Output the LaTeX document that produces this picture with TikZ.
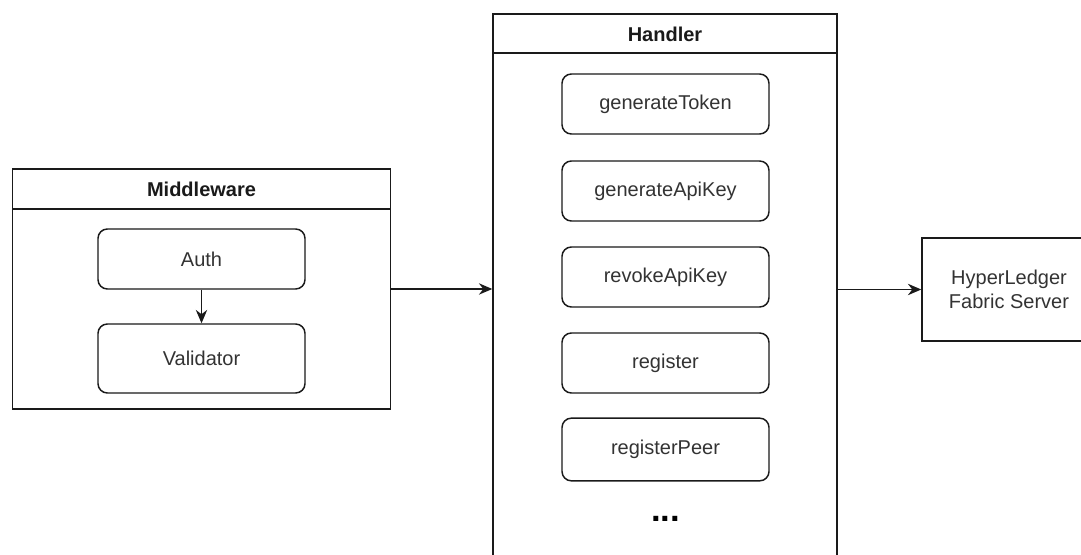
\documentclass[tikz,border=0pt]{standalone}
\usepackage{fontspec}
\setmainfont{Liberation Sans}
\usetikzlibrary{arrows.meta}
\definecolor{linec}{HTML}{1A1A1A}
\definecolor{textc}{HTML}{333333}
\tikzset{
  px/.style={x=0.75pt,y=-0.75pt},
  container/.style={draw=linec,line width=1.1pt,inner sep=0pt,fill=white},
  titletext/.style={font=\fontsize{15}{18}\selectfont\bfseries,text=linec,inner sep=0pt},
  funcbox/.style={draw=linec,line width=1.1pt,rounded corners=7pt,fill=white,
    minimum width=155.25pt,minimum height=45pt,inner sep=0pt,
    font=\fontsize{15}{18}\selectfont,text=textc},
  plainbox/.style={draw=linec,line width=1.1pt,fill=white,inner sep=0pt,
    font=\fontsize{15}{18}\selectfont,text=textc,align=center},
  arrowline/.style={draw=linec,line width=1.2pt,-{Stealth[length=10pt,width=8.5pt]}}
}
\begin{document}
\begin{tikzpicture}[px]
\useasboundingbox (0,0) rectangle (1081,555);
\clip (0,0) rectangle (1081,555);
% Middleware container
\node[container,minimum width=283.5pt,minimum height=180pt] (mw) at (201.5,289) {};
\coordinate (mwtl) at (12.5,209);
\coordinate (mwtr) at (390.5,209);
\draw[draw=linec,line width=1.1pt] (mwtl) -- (mwtr);
\node[titletext] (mwtitle) at (201.5,189.5) {Middleware};
\node[funcbox] (auth) at (201.5,259) {Auth};
\node[funcbox,minimum height=51.75pt] (validator) at (201.5,358.5) {Validator};
% Handler container
\node[container,minimum width=258pt,minimum height=450pt] (handler) at (665,314) {};
\coordinate (hdtl) at (493,53);
\coordinate (hdtr) at (837,53);
\draw[draw=linec,line width=1.1pt] (hdtl) -- (hdtr);
\node[titletext] (hdtitle) at (665,34) {Handler};
\node[funcbox] (gentoken) at (665.5,104) {generateToken};
\node[funcbox] (genapikey) at (665.5,191) {generateApiKey};
\node[funcbox] (revoke) at (665.5,277) {revokeApiKey};
\node[funcbox] (register) at (665.5,363) {register};
\node[funcbox,minimum height=47pt] (regpeer) at (665.5,449.5) {registerPeer};
\node[font=\fontsize{26}{28}\selectfont\bfseries,text=black,inner sep=0pt] (dots) at (665.5,519) {...};
% HyperLedger
\node[plainbox,minimum width=130.5pt,minimum height=77.25pt] (hlf) at (1009,289.5) {HyperLedger\\Fabric Server};
% connectors
\draw[arrowline] (auth.south) -- (validator.north);
\draw[arrowline] (mw.east) -- (handler.west |- mw.east);
\draw[arrowline] (handler.east |- hlf.west) -- (hlf.west);
\end{tikzpicture}
\end{document}
